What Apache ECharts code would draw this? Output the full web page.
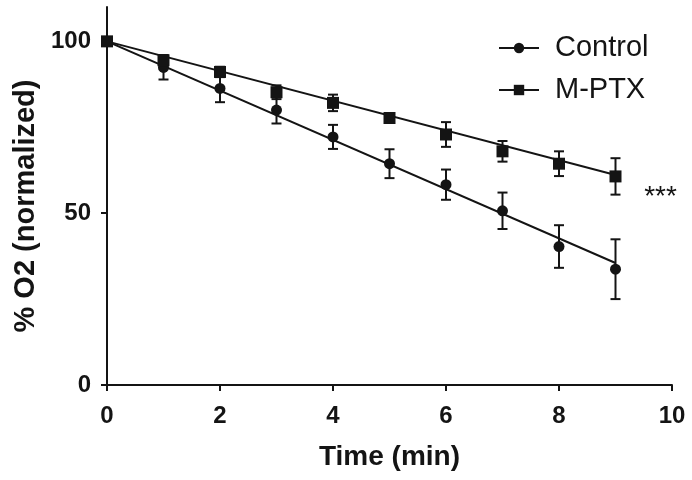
<!DOCTYPE html>
<html>
<head>
<meta charset="utf-8">
<script src="https://cdn.jsdelivr.net/npm/echarts@6/dist/echarts.min.js"></script>
<style>html,body{margin:0;padding:0;background:#fff;}#c{width:692px;height:480px;}</style>
</head>
<body>
<div id="c"></div>
<script>
const times = [0, 1, 2, 3, 4, 5, 6, 7, 8, 9];
const controlMean = [100, 92.4, 86.3, 80.0, 72.2, 64.4, 58.3, 50.7, 40.3, 33.7];
const controlErr  = [0, 3.5, 4.0, 3.9, 3.5, 4.2, 4.4, 5.3, 6.2, 8.7];
const mptxMean    = [100, 94.5, 91.1, 85.2, 82.1, 77.7, 72.9, 68.0, 64.4, 60.7];
const mptxErr     = [0, 1.5, 1.5, 2.0, 2.4, 1.0, 3.6, 3.0, 3.6, 5.3];
const fitTimes    = [0, 9];
const controlFit  = [100, 35.5];
const mptxFit     = [100, 61.1];
const xTicks = [0, 2, 4, 6, 8, 10];
const yTicks = [0, 50, 100];
const sigLabel = '***';

const ink = '#141414';
const pairs = (xs, ys) => xs.map((x, i) => [x, ys[i]]);
const errData = (m, e) => times.map((t, i) => [t, m[i] - e[i], m[i] + e[i]]);

function errRender(params, api) {
  const x = api.value(0);
  const lo = api.coord([x, api.value(1)]);
  const hi = api.coord([x, api.value(2)]);
  const w = 5;
  const st = { stroke: ink, lineWidth: 2 };
  return {
    type: 'group',
    children: [
      { type: 'line', shape: { x1: lo[0], y1: lo[1], x2: hi[0], y2: hi[1] }, style: st },
      { type: 'line', shape: { x1: lo[0] - w, y1: lo[1], x2: lo[0] + w, y2: lo[1] }, style: st },
      { type: 'line', shape: { x1: hi[0] - w, y1: hi[1], x2: hi[0] + w, y2: hi[1] }, style: st }
    ]
  };
}

const chart = echarts.init(document.getElementById('c'), null, { renderer: 'canvas' });
chart.setOption({
  animation: false,
  backgroundColor: '#fff',
  grid: { left: 107, right: 20, top: 7, bottom: 95, containLabel: false },
  legend: {
    data: ['Control', 'M-PTX'],
    orient: 'vertical',
    left: 493, top: 28,
    itemWidth: 40, itemHeight: 13, itemGap: 12,
    textStyle: { fontFamily: 'Liberation Sans', fontSize: 29, color: ink, lineHeight: 30, padding: [0, 0, 0, 11] }
  },
  xAxis: {
    type: 'value', min: 0, max: 10, interval: 2,
    name: 'Time (min)', nameLocation: 'middle', nameGap: 58,
    nameTextStyle: { fontFamily: 'Liberation Sans', fontWeight: 'bold', fontSize: 28, color: ink },
    axisLine: { show: true, lineStyle: { color: ink, width: 2 } },
    axisTick: { show: true, inside: false, length: 6, lineStyle: { color: ink, width: 2 } },
    axisLabel: { margin: 19, fontFamily: 'Liberation Sans', fontWeight: 'bold', fontSize: 24, color: ink,
      formatter: v => xTicks.includes(v) ? String(v) : '' },
    splitLine: { show: false }
  },
  yAxis: {
    type: 'value', min: 0, max: 110, interval: 50,
    name: '% O2 (normalized)', nameLocation: 'middle', nameGap: 63,
    nameTextStyle: { fontFamily: 'Liberation Sans', fontWeight: 'bold', fontSize: 29, color: ink, padding: [0, 20, 0, 0] },
    axisLine: { show: true, lineStyle: { color: ink, width: 2 } },
    axisTick: { show: true, inside: false, length: 6, lineStyle: { color: ink, width: 2 } },
    axisLabel: { margin: 16, showMaxLabel: false, fontFamily: 'Liberation Sans', fontWeight: 'bold', fontSize: 24, color: ink,
      formatter: v => yTicks.includes(v) ? String(v) : '' },
    splitLine: { show: false }
  },
  series: [
    { name: 'Control', type: 'line', data: pairs(fitTimes, controlFit), symbol: 'circle', showSymbol: false,
      lineStyle: { color: ink, width: 2 }, itemStyle: { color: ink }, silent: true, z: 2 },
    { name: 'M-PTX', type: 'line', data: pairs(fitTimes, mptxFit), symbol: 'rect', showSymbol: false,
      lineStyle: { color: ink, width: 2 }, itemStyle: { color: ink }, silent: true, z: 2,
      markPoint: {
        symbol: 'circle', symbolSize: 0,
        data: [{ coord: [times[times.length - 1], mptxMean[mptxMean.length - 1]] }],
        label: { show: true, formatter: sigLabel, offset: [45, 21], fontFamily: 'Liberation Sans', fontSize: 28, color: ink }
      } },
    { name: 'Control err', type: 'custom', data: errData(controlMean, controlErr), renderItem: errRender, z: 3 },
    { name: 'M-PTX err', type: 'custom', data: errData(mptxMean, mptxErr), renderItem: errRender, z: 3 },
    { name: 'Control pts', type: 'scatter', data: pairs(times, controlMean), symbol: 'circle', symbolSize: 11,
      itemStyle: { color: ink, opacity: 1 }, z: 4 },
    { name: 'M-PTX pts', type: 'scatter', data: pairs(times, mptxMean), symbol: 'rect', symbolSize: 12,
      itemStyle: { color: ink, opacity: 1 }, z: 5 }
  ]
});
</script>
</body>
</html>
